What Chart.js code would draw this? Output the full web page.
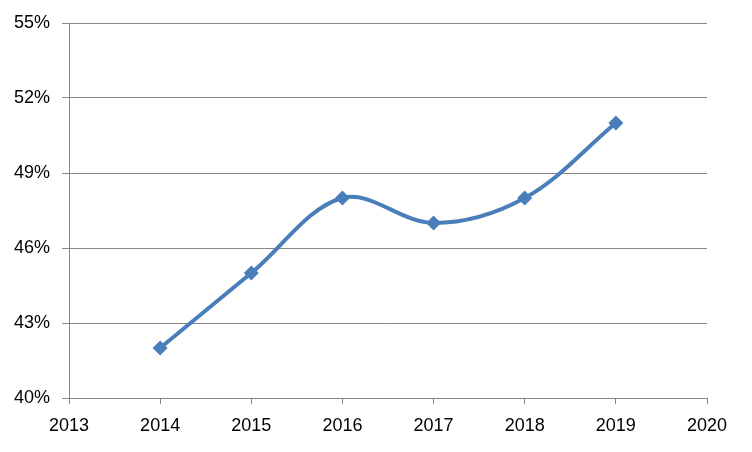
<!DOCTYPE html>
<html>
<head>
<meta charset="utf-8">
<script src="https://cdn.jsdelivr.net/npm/chart.js@4/dist/chart.umd.min.js"></script>
<style>
  html, body { margin: 0; padding: 0; background: #fff; }
  #wrap { width: 752px; height: 452px; }
</style>
</head>
<body>
<div id="wrap"><canvas id="line-chart" width="752" height="452"></canvas></div>
<script>
// 연도 (x축)
const years = [2014, 2015, 2016, 2017, 2018, 2019];
// 값 (%)
const values = [42, 45, 48, 47, 48, 51];
// 축 범위
const xMin = 2013, xMax = 2020;
const yMin = 40, yMax = 55, yStep = 3;

const points = years.map((y, i) => ({ x: y, y: values[i] }));
const gridColor = '#868686';
const font = { family: 'Liberation Sans', size: 18 };

new Chart(document.getElementById('line-chart'), {
  type: 'line',
  data: {
    datasets: [{
      data: points,
      borderColor: '#4a7ebb',
      backgroundColor: '#4a7ebb',
      borderWidth: 4,
      pointStyle: 'rectRot',
      pointRadius: 7.5,
      pointHoverRadius: 7.5,
      pointBorderWidth: 0,
      tension: 0.35,
      fill: false
    }]
  },
  options: {
    responsive: false,
    animation: false,
    layout: { padding: { left: 0, right: 45, top: 23, bottom: 0 } },
    plugins: { legend: { display: false }, tooltip: { enabled: false } },
    scales: {
      x: {
        type: 'linear',
        min: xMin,
        max: xMax,
        afterFit: s => { s.height = 54; },
        ticks: {
          stepSize: 1,
          color: '#000',
          font: font,
          padding: 11,
          maxRotation: 0,
          callback: v => String(v)
        },
        grid: { drawOnChartArea: false, color: gridColor, tickLength: 6, lineWidth: 1 },
        border: { color: gridColor, width: 1 }
      },
      y: {
        min: yMin,
        max: yMax,
        afterFit: s => { s.width = 69; },
        ticks: {
          stepSize: yStep,
          color: '#000',
          font: font,
          padding: 12,
          callback: v => v + '%'
        },
        grid: { color: gridColor, tickLength: 7, lineWidth: 1 },
        border: { color: gridColor, width: 1 }
      }
    }
  }
});
</script>
</body>
</html>
